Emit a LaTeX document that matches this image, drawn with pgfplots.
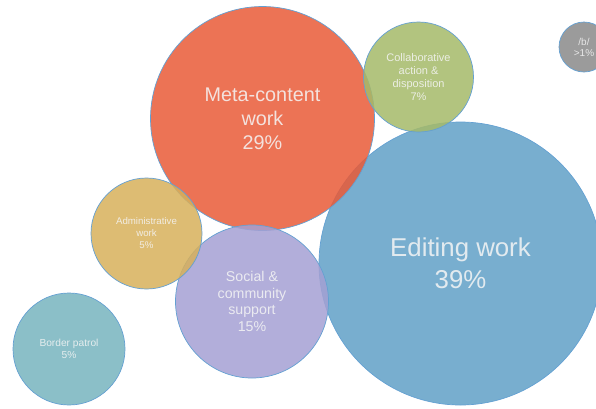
\documentclass[border=0pt]{standalone}
\usepackage{pgfplots}
\pgfplotsset{compat=1.18}
\usepackage{fontspec}
\setmainfont{Liberation Sans}

% fill colours (drawn at 85% opacity)
\definecolor{editC}{RGB}{96,160,199}
\definecolor{metaC}{RGB}{233,90,55}
\definecolor{collabC}{RGB}{165,186,105}
\definecolor{socialC}{RGB}{164,160,211}
\definecolor{adminC}{RGB}{215,176,91}
\definecolor{borderC}{RGB}{119,180,190}
\definecolor{bC}{RGB}{137,137,137}
\definecolor{edgeC}{RGB}{100,160,210}

% one bubble: radius (data units = pt), fill, label, font size/baselineskip
\pgfplotsset{
  bubble/.style n args={5}{
    only marks, mark=*, mark size=#1pt,
    mark options={fill=#2, draw=edgeC, line width=0.7pt, fill opacity=0.85},
    nodes near coords={#3},
    every node near coord/.append style={anchor=center, align=center,
      text=white!96!black, inner sep=0pt, font=\fontsize{#4}{#5}\selectfont},
  },
}

\begin{document}
\begin{tikzpicture}
\begin{axis}[
    width=596pt, height=408pt, scale only axis,
    xmin=0, xmax=596, ymin=0, ymax=408,
    y dir=reverse,
    hide axis,
    clip marker paths=true,
]
\addplot[bubble={141.5}{editC}{Editing work\\39\%}{25.8}{31.5}]
  coordinates {(460.5,263.5)};
\addplot[bubble={112}{metaC}{Meta-content\\work\\29\%}{19.8}{24}]
  coordinates {(262.5,118.5)};
\addplot[bubble={55}{collabC}{Collaborative\\action \&\\disposition\\7\%}{11}{12.8}]
  coordinates {(418.5,77)};
\addplot[bubble={76.5}{socialC}{Social \&\\community\\support\\15\%}{14.2}{16.4}]
  coordinates {(252,301.5)};
\addplot[bubble={55.5}{adminC}{Administrative\\work\\5\%}{9.7}{12}]
  coordinates {(146.5,233.5)};
\addplot[bubble={56}{borderC}{Border patrol\\5\%}{10.2}{12}]
  coordinates {(69,349)};
\addplot[bubble={25}{bC}{/b/\\>1\%}{10}{11}]
  coordinates {(584,47)};
\end{axis}
\pgfresetboundingbox
\path[use as bounding box] (current axis.south west) rectangle (current axis.north east);
\end{tikzpicture}
\end{document}
